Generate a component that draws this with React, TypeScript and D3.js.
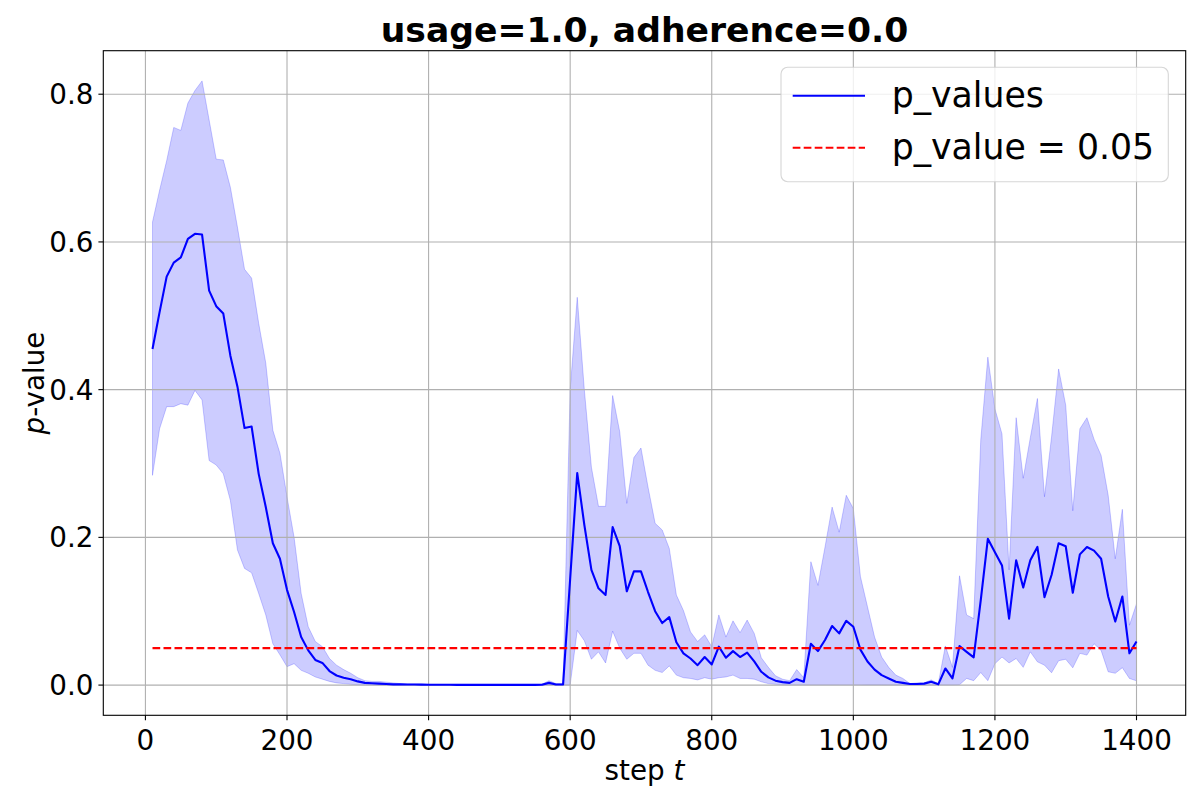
import * as d3 from "d3";

// training steps, one sample every 10 steps
const steps = d3.range(10, 1401, 10);

// mean p-value per step
const pMean = [
  0.455, 0.505, 0.553, 0.572, 0.579, 0.604, 0.611, 0.61, 0.534, 0.513,
  0.503, 0.446, 0.404, 0.348, 0.35, 0.286, 0.241, 0.192, 0.171, 0.129,
  0.099, 0.065, 0.047, 0.034, 0.03, 0.019, 0.013, 0.01, 0.008, 0.005,
  0.003, 0.0025, 0.002, 0.0015, 0.001, 0.001, 0.0008, 0.0007, 0.0006, 0.0005,
  0.0004, 0.0004, 0.0004, 0.0003, 0.0003, 0.0003, 0.0003, 0.0003, 0.0003, 0.0003,
  0.0003, 0.0003, 0.0003, 0.0003, 0.0003, 0.0004, 0.003, 0.0008, 0.001, 0.144,
  0.287, 0.217, 0.156, 0.131, 0.122, 0.214, 0.188, 0.127, 0.154, 0.154,
  0.126, 0.1, 0.084, 0.092, 0.058, 0.043, 0.036, 0.027, 0.038, 0.028,
  0.052, 0.037, 0.046, 0.038, 0.044, 0.032, 0.018, 0.0104, 0.006, 0.004,
  0.003, 0.008, 0.0045, 0.056, 0.046, 0.061, 0.08, 0.07, 0.087, 0.079,
  0.048, 0.032, 0.021, 0.0135, 0.009, 0.0045, 0.003, 0.0014, 0.0014, 0.002,
  0.0045, 0.001, 0.0225, 0.009, 0.0528, 0.045, 0.0375, 0.115, 0.198, 0.18,
  0.162, 0.09, 0.169, 0.132, 0.169, 0.187, 0.119, 0.149, 0.192, 0.188,
  0.125, 0.177, 0.187, 0.182, 0.171, 0.12, 0.086, 0.12, 0.043, 0.059,
];

// upper edge of the shaded band
const pUpper = [
  0.627, 0.67, 0.71, 0.755, 0.751, 0.788, 0.805, 0.818, 0.765, 0.712,
  0.711, 0.674, 0.62, 0.563, 0.551, 0.49, 0.436, 0.345, 0.314, 0.255,
  0.2, 0.124, 0.079, 0.059, 0.052, 0.036, 0.027, 0.021, 0.016, 0.01,
  0.006, 0.005, 0.005, 0.004, 0.003, 0.002, 0.0015, 0.0015, 0.0012, 0.001,
  0.001, 0.001, 0.001, 0.001, 0.001, 0.001, 0.001, 0.001, 0.001, 0.001,
  0.001, 0.001, 0.001, 0.001, 0.001, 0.001, 0.006, 0.002, 0.002, 0.4,
  0.525, 0.4, 0.295, 0.242, 0.242, 0.392, 0.343, 0.246, 0.308, 0.321,
  0.268, 0.219, 0.21, 0.185, 0.122, 0.101, 0.072, 0.059, 0.068, 0.052,
  0.095, 0.065, 0.087, 0.071, 0.088, 0.07, 0.037, 0.024, 0.0126, 0.008,
  0.006, 0.021, 0.01, 0.167, 0.135, 0.187, 0.241, 0.207, 0.257, 0.239,
  0.147, 0.106, 0.065, 0.038, 0.024, 0.0135, 0.009, 0.002, 0.003, 0.003,
  0.007, 0.002, 0.053, 0.024, 0.148, 0.095, 0.09, 0.332, 0.444, 0.374,
  0.34, 0.156, 0.362, 0.28, 0.335, 0.388, 0.255, 0.336, 0.428, 0.379,
  0.236, 0.347, 0.362, 0.333, 0.311, 0.257, 0.171, 0.238, 0.081, 0.11,
];

// lower edge of the shaded band
const pLower = [
  0.284, 0.347, 0.377, 0.377, 0.381, 0.379, 0.399, 0.386, 0.304, 0.298,
  0.286, 0.25, 0.183, 0.158, 0.152, 0.124, 0.095, 0.056, 0.041, 0.025,
  0.029, 0.02, 0.016, 0.011, 0.008, 0.005, 0.003, 0.002, 0.001, 0.0005,
  0.0003, 0.0002, 0.0001, 0, 0, 0, 0, 0, 0, 0,
  0, 0, 0, 0, 0, 0, 0, 0, 0, 0,
  0, 0, 0, 0, 0, 0, 0, 0, 0, 0,
  0.074, 0.06, 0.035, 0.045, 0.03, 0.073, 0.05, 0.035, 0.043, 0.043,
  0.027, 0.02, 0.017, 0.026, 0.0135, 0.01, 0.009, 0.007, 0.01, 0.008,
  0.01, 0.011, 0.0135, 0.009, 0.009, 0.008, 0.0045, 0.002, 0.001, 0.0005,
  0.0003, 0.0003, 0.0003, 0.0003, 0.0003, 0.0003, 0.0003, 0.0003, 0.0003, 0.0003,
  0.0003, 0.0002, 0.0002, 0.0002, 0.0001, 0.0001, 0.0001, 0, 0, 0,
  0, 0, 0, 0, 0.0005, 0.009, 0.006, 0.017, 0.006, 0.029,
  0.038, 0.03, 0.036, 0.024, 0.045, 0.0315, 0.027, 0.0167, 0.033, 0.035,
  0.0234, 0.043, 0.0406, 0.056, 0.047, 0.018, 0.016, 0.0235, 0.009, 0.0058,
];

const threshold = 0.05;
const xTicks = [0, 200, 400, 600, 800, 1000, 1200, 1400];
const yTicks = [0, 0.2, 0.4, 0.6, 0.8];
const legendLabels = ["p_values", "p_value = 0.05"];

const font = "DejaVu Sans, sans-serif";

export default function App() {
  const W = 1200;
  const H = 800;
  const left = 103.3, right = 1185.7, top = 50.7, bottom = 715.3;

  // matplotlib style 5% margins around the data
  const xMin = d3.min(steps)!, xMax = d3.max(steps)!;
  const xPad = (xMax - xMin) * 0.05;
  const yMin = 0, yMax = d3.max(pUpper)!;
  const yPad = (yMax - yMin) * 0.05;

  const x = d3.scaleLinear().domain([xMin - xPad, xMax + xPad]).range([left, right]);
  const y = d3.scaleLinear().domain([yMin - yPad, yMax + yPad]).range([bottom, top]);

  const rows = steps.map((s, i) => ({ s, m: pMean[i], lo: pLower[i], hi: pUpper[i] }));

  const band = d3.area<any>()
    .x((d) => x(d.s))
    .y0((d) => y(d.lo))
    .y1((d) => y(d.hi));
  const meanLine = d3.line<any>()
    .x((d) => x(d.s))
    .y((d) => y(d.m));

  const grid = "#b0b0b0";
  const tickFs = 27.8;

  // legend box
  const lx = 781, ly = 67.3, lw = 387.3, lh = 114.4;
  const rowY = [95.7, 147.7];

  return (
    <svg width={W} height={H} style={{ display: "block", position: "absolute", left: 0, top: 0 }}
      fontFamily={font}>
      <rect width={W} height={H} fill="white" />

      {/* shaded band */}
      <path d={band(rows) || ""} fill="blue" fillOpacity={0.2}
        stroke="blue" strokeOpacity={0.2} strokeWidth={1} />

      {/* grid */}
      {xTicks.map((t) => (
        <line key={"gx" + t} x1={x(t)} x2={x(t)} y1={top} y2={bottom} stroke={grid} strokeWidth={1.1} />
      ))}
      {yTicks.map((t) => (
        <line key={"gy" + t} x1={left} x2={right} y1={y(t)} y2={y(t)} stroke={grid} strokeWidth={1.1} />
      ))}

      {/* mean line */}
      <path d={meanLine(rows) || ""} fill="none" stroke="blue" strokeWidth={2.1} strokeLinejoin="round" />

      {/* threshold */}
      <line x1={x(xMin)} x2={x(xMax)} y1={y(threshold)} y2={y(threshold)}
        stroke="red" strokeWidth={2.1} strokeDasharray="7.7 3.3" />

      {/* spines */}
      <rect x={left} y={top} width={right - left} height={bottom - top}
        fill="none" stroke="black" strokeWidth={1.1} />

      {/* x axis */}
      {xTicks.map((t) => (
        <g key={"xt" + t}>
          <line x1={x(t)} x2={x(t)} y1={bottom} y2={bottom + 4.9} stroke="black" strokeWidth={1.1} />
          <text x={x(t)} y={749.6} textAnchor="middle" fontSize={tickFs}>{t}</text>
        </g>
      ))}
      {/* y axis */}
      {yTicks.map((t) => (
        <g key={"yt" + t}>
          <line x1={left - 4.9} x2={left} y1={y(t)} y2={y(t)} stroke="black" strokeWidth={1.1} />
          <text x={93.5} y={y(t) + 10.1} textAnchor="end" fontSize={tickFs}>{t.toFixed(1)}</text>
        </g>
      ))}

      {/* axis labels */}
      <text x={(left + right) / 2} y={780} textAnchor="middle" fontSize={27.8}>
        step <tspan fontStyle="italic">t</tspan>
      </text>
      <text transform={`translate(44, ${(top + bottom) / 2}) rotate(-90)`} textAnchor="middle" fontSize={27.8}>
        <tspan fontStyle="italic">p</tspan>-value
      </text>

      {/* title */}
      <text x={(left + right) / 2} y={42.4} textAnchor="middle" fontSize={34.6} fontWeight="bold">
        usage=1.0, adherence=0.0
      </text>

      {/* legend */}
      <rect x={lx} y={ly} width={lw} height={lh} rx={6.7} ry={6.7}
        fill="white" fillOpacity={0.8} stroke="#cccccc" strokeOpacity={0.8} strokeWidth={1.1} />
      <line x1={792.7} x2={865} y1={rowY[0]} y2={rowY[0]} stroke="blue" strokeWidth={2.1} />
      <line x1={792.7} x2={865} y1={rowY[1]} y2={rowY[1]} stroke="red" strokeWidth={2.1} strokeDasharray="7.7 3.3" />
      {legendLabels.map((lab, i) => (
        <text key={lab} x={891.7} y={rowY[i] + 11} fontSize={34.7}>{lab}</text>
      ))}
    </svg>
  );
}
